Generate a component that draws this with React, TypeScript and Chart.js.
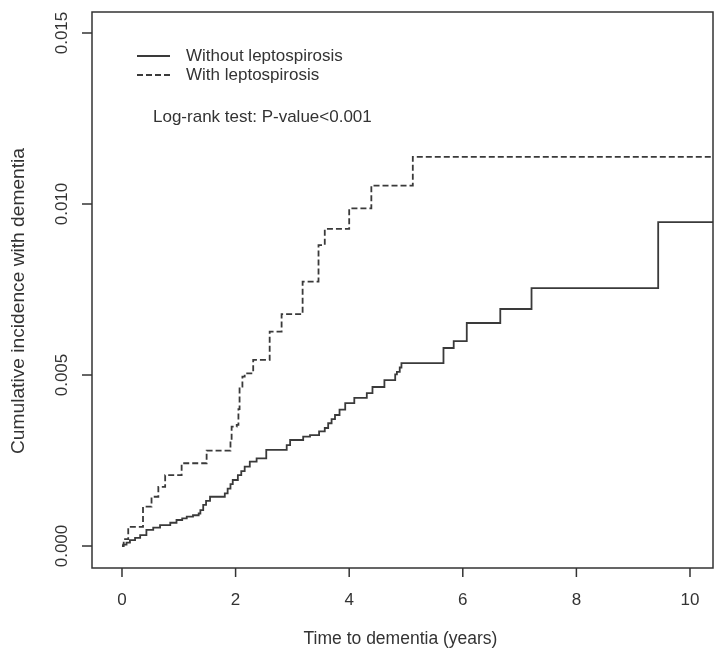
import React, { useEffect, useRef } from "react";
import { Chart, registerables } from "chart.js";

Chart.register(...registerables);

const withoutTime = [0, 0.02, 0.08, 0.14, 0.23, 0.32, 0.43, 0.55, 0.67, 0.85, 0.96, 1.06, 1.14, 1.25, 1.35, 1.38, 1.43, 1.48, 1.55, 1.81, 1.86, 1.91, 1.95, 2.04, 2.10, 2.16, 2.25, 2.37, 2.54, 2.90, 2.96, 3.19, 3.31, 3.47, 3.57, 3.63, 3.69, 3.75, 3.83, 3.93, 4.09, 4.31, 4.41, 4.62, 4.81, 4.84, 4.89, 4.92, 5.66, 5.84, 6.07, 6.66, 7.21, 9.44, 10.45];
const withoutCI = [0, 0.00004, 0.0001, 0.00017, 0.00024, 0.00032, 0.00047, 0.00054, 0.00061, 0.00068, 0.00076, 0.00081, 0.00086, 0.0009, 0.00095, 0.00105, 0.0012, 0.00132, 0.00144, 0.00154, 0.00168, 0.00181, 0.00193, 0.00207, 0.00219, 0.00232, 0.00247, 0.00256, 0.00281, 0.00295, 0.0031, 0.0032, 0.00324, 0.00335, 0.00345, 0.00359, 0.00371, 0.00383, 0.00399, 0.00418, 0.00433, 0.00447, 0.00465, 0.00485, 0.00502, 0.00509, 0.00522, 0.00535, 0.00579, 0.00599, 0.00652, 0.00693, 0.00754, 0.00947, 0.00947];

const withTime = [0, 0.03, 0.11, 0.37, 0.52, 0.64, 0.76, 1.05, 1.49, 1.91, 1.93, 2.02, 2.05, 2.07, 2.12, 2.16, 2.31, 2.60, 2.81, 3.18, 3.46, 3.57, 4.00, 4.39, 5.12, 10.45];
const withCI = [0, 0.0002, 0.00056, 0.00115, 0.00144, 0.00173, 0.00207, 0.00242, 0.00279, 0.0031, 0.00349, 0.00354, 0.004, 0.00466, 0.00495, 0.00505, 0.00544, 0.00627, 0.00678, 0.00773, 0.0088, 0.00927, 0.00987, 0.01054, 0.01138, 0.01138];

const xTicks = [0, 2, 4, 6, 8, 10];
const yTicks = [0, 0.005, 0.01, 0.015];
const yTickLabels = ["0.000", "0.005", "0.010", "0.015"];
const seriesLabels = ["Without leptospirosis", "With leptospirosis"];
const xTitle = "Time to dementia (years)";
const yTitle = "Cumulative incidence with dementia";
const testNote = "Log-rank test: P-value<0.001";

const FONT = "17px 'Liberation Sans', Arial, sans-serif";
const INK = "#333333";

const rPlot = {
  id: "rPlot",
  afterDraw(chart: any) {
    const { ctx, chartArea: a, scales } = chart;
    const xs = scales.x;
    const ys = scales.y;
    ctx.save();
    ctx.strokeStyle = INK;
    ctx.fillStyle = INK;
    ctx.lineWidth = 1.5;
    ctx.strokeRect(a.left, a.top, a.right - a.left, a.bottom - a.top);
    ctx.font = FONT;
    ctx.textAlign = "center";
    ctx.textBaseline = "middle";
    xTicks.forEach((v) => {
      const px = xs.getPixelForValue(v);
      ctx.beginPath();
      ctx.moveTo(px, a.bottom);
      ctx.lineTo(px, a.bottom + 9);
      ctx.stroke();
      ctx.fillText(String(v), px, a.bottom + 32);
    });
    yTicks.forEach((v, i) => {
      const py = ys.getPixelForValue(v);
      ctx.beginPath();
      ctx.moveTo(a.left, py);
      ctx.lineTo(a.left - 10, py);
      ctx.stroke();
      ctx.save();
      ctx.translate(a.left - 30, py);
      ctx.rotate(-Math.PI / 2);
      ctx.fillText(yTickLabels[i], 0, 0);
      ctx.restore();
    });
    ctx.font = "17.5px 'Liberation Sans', Arial, sans-serif";
    ctx.fillText(xTitle, (a.left + a.right) / 2 - 2, a.bottom + 71);
    ctx.save();
    ctx.translate(19, 301);
    ctx.rotate(-Math.PI / 2);
    ctx.font = "19.2px 'Liberation Sans', Arial, sans-serif";
    ctx.fillText(yTitle, 0, 0);
    ctx.restore();
    ctx.font = FONT;
    ctx.textAlign = "left";
    ctx.lineWidth = 1.8;
    ctx.strokeStyle = "#3a3a3a";
    ctx.beginPath();
    ctx.moveTo(137, 56);
    ctx.lineTo(170, 56);
    ctx.stroke();
    ctx.setLineDash([6, 3]);
    ctx.beginPath();
    ctx.moveTo(137, 75);
    ctx.lineTo(170, 75);
    ctx.stroke();
    ctx.setLineDash([]);
    ctx.fillText(seriesLabels[0], 186, 56);
    ctx.fillText(seriesLabels[1], 186, 75);
    ctx.fillText(testNote, 153, 117);
    ctx.restore();
  },
};

export default function App() {
  const ref = useRef<HTMLCanvasElement>(null);
  useEffect(() => {
    if (!ref.current) return;
    const chart = new Chart(ref.current, {
      type: "line",
      data: {
        datasets: [
          {
            label: seriesLabels[0],
            data: withoutTime.map((t, i) => ({ x: t, y: withoutCI[i] })),
            borderColor: "#3a3a3a",
            borderWidth: 1.8,
            stepped: "before",
            pointRadius: 0,
            fill: false,
          },
          {
            label: seriesLabels[1],
            data: withTime.map((t, i) => ({ x: t, y: withCI[i] })),
            borderColor: "#3a3a3a",
            borderWidth: 1.8,
            borderDash: [6, 3],
            stepped: "before",
            pointRadius: 0,
            fill: false,
          },
        ],
      },
      options: {
        responsive: false,
        animation: false,
        layout: { padding: { left: 92, top: 12, right: 14, bottom: 95 } },
        plugins: { legend: { display: false }, tooltip: { enabled: false } },
        scales: {
          x: { type: "linear", display: false, min: -0.528, max: 10.405 },
          y: { type: "linear", display: false, min: -0.000643, max: 0.015614 },
        },
      },
      plugins: [rPlot],
    });
    return () => chart.destroy();
  }, []);
  return (
    <div style={{ position: "fixed", left: 0, top: 0, width: 727, height: 663, background: "#fff" }}>
      <canvas ref={ref} width={727} height={663} />
    </div>
  );
}
